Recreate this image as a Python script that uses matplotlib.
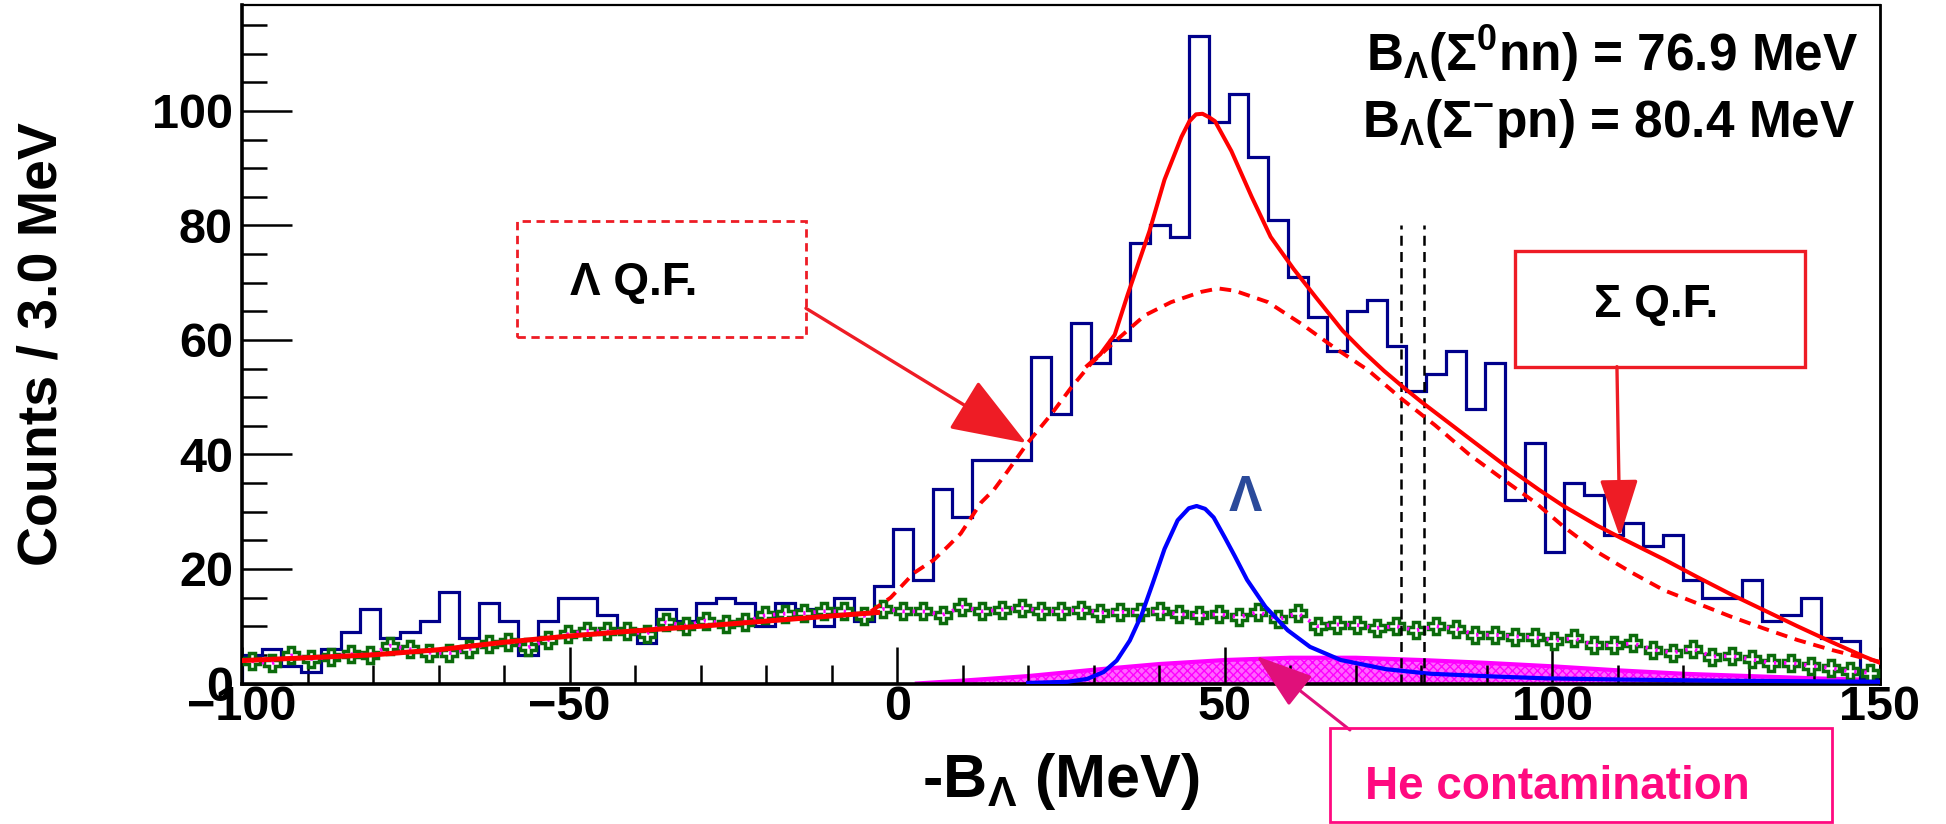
import numpy as np
import matplotlib
matplotlib.use("Agg")
import matplotlib.pyplot as plt
from matplotlib.patches import Rectangle
from matplotlib import font_manager

# ---- data ----
x_lo, x_hi, n_bins = -100.0, 150.0, 83

counts = [5, 6, 3, 2, 6, 9, 13, 8, 9, 11, 16, 8, 14, 11, 5, 11, 15,
          15, 12, 9.5, 7, 13, 11, 14, 15, 14, 10, 14, 13, 10, 15, 11, 17,
          27, 18, 34, 29, 39, 39, 39, 57, 47, 63, 56, 60, 77, 80, 78, 113, 98,
          103, 92, 81, 71, 64, 58, 65, 67, 59, 51, 54, 58, 48, 56, 32, 42,
          23, 35, 33, 26, 28, 24, 26, 18, 15, 15, 18, 11, 12, 15, 8, 7.5, 1]

bkg_pts = [3.9, 3.5, 4.9, 4.3, 4.7, 5.1, 5.0, 6.6, 6.0, 5.4, 5.3, 6.0, 6.9, 7.2, 6.3, 7.6, 8.6,
           9.2, 9.1, 9.1, 8.7, 10.7, 10.1, 11.0, 10.4, 10.8, 11.9, 12.2, 12.3, 12.6, 12.6, 11.8, 13.0,
           12.6, 12.6, 12.0, 13.4, 12.6, 12.9, 13.2, 12.7, 12.6, 12.9, 12.4, 12.5, 12.5, 12.6, 12.1, 11.9, 12.1,
           11.6, 12.5, 11.2, 12.3, 10.0, 10.3, 10.2, 9.7, 10.0, 9.3, 10.0, 9.6, 8.5, 8.5, 8.2, 8.1,
           7.5, 7.9, 6.7, 6.7, 7.0, 5.9, 5.4, 6.1, 4.7, 4.8, 4.2, 3.6, 3.6, 3.1, 2.7, 2.1, 1.9]

# total fit, low side
tot_lo_x = [-100, -90, -80, -70, -60, -50, -40, -30, -20, -10, -3]
tot_lo_y = [4.0, 4.5, 5.0, 5.9, 7.2, 8.3, 9.2, 10.0, 10.9, 11.8, 12.4]

# total fit, peak region and tail
tot_x = [29, 31, 33.2, 35.2, 38.5, 40.8, 43.4, 44.6, 45.6, 46.6, 47.6, 48.5, 51, 54.1, 57, 60.5,
         64, 68, 71.2, 74.3, 77.5, 80.1, 87.2, 93.3, 98, 101.7, 106.8, 110.5, 117, 122.1,
         127.2, 132.3, 137.4, 142.5, 147.6, 150]
tot_y = [55.5, 57.5, 60.9, 68, 79, 88, 95.5, 98.2, 99.4, 99.5, 98.9, 98.2, 93, 85, 78, 72.4,
         67.3, 61.6, 57.9, 54.6, 51.5, 49.1, 42.9, 37.6, 33.8, 31.0, 27.6, 25.4, 21.7, 18.6,
         15.6, 12.8, 10.0, 7.3, 4.7, 3.6]

# Lambda quasi-free component
lqf_x = [-4, -1, 2.55, 5.6, 7.7, 9.7, 12.8, 14.8, 16.8, 19.9, 23.5, 26.5, 29.6, 33.2, 37.8,
         41.8, 46.4, 49, 51.5, 56.6, 61.7, 66.8, 71.9, 77, 82.1, 87.2, 92.3, 97.4,
         101.7, 106.8, 111.9, 117, 122.1, 127.2, 132.3, 137.4, 142.5, 147.6, 150]
lqf_y = [12.6, 15.0, 19.3, 21.6, 23.9, 26.2, 31.6, 33.9, 37.0, 42.0, 47.0, 51.6, 55.9, 59.7, 64.3,
         66.6, 68.4, 69.0, 68.6, 66.6, 62.8, 58.6, 54.7, 49.7, 45.1, 40.1, 35.8, 31.6,
         27.4, 23.0, 19.5, 16.3, 14.0, 11.7, 9.6, 7.6, 5.9, 4.4, 3.8]

# Lambda peak
lam_x = [20, 26, 29, 31.5, 33.5, 35.5, 37.3, 39, 40.8, 42.8, 44.5, 45.7, 47, 48.3, 50, 51.5,
         53.4, 56.2, 59.6, 63, 67.7, 74.6, 81.4, 91.6, 99, 110, 125, 150]
lam_y = [0.1, 0.3, 0.8, 2.0, 4.0, 7.5, 12.0, 17.5, 23.5, 28.5, 30.6, 31.0, 30.5, 29.0, 25.5, 22.3,
         18.1, 13.4, 9.3, 6.4, 4.1, 2.5, 1.7, 1.2, 0.9, 0.7, 0.5, 0.3]

# He contamination
he_x = [3, 10, 20, 30, 40, 50, 60, 70, 80, 90, 100, 110, 120, 130, 140, 150]
he_y = [0, 0.5, 1.3, 2.4, 3.4, 4.1, 4.5, 4.5, 4.1, 3.6, 3.0, 2.3, 1.7, 1.3, 0.9, 0.6]

b_sigma0nn = 76.9
b_sigmampn = 80.4
line_top = 80

# ---- style ----
plt.rcParams['font.family'] = ['Liberation Sans', 'DejaVu Sans']
plt.rcParams['font.weight'] = 'bold'
plt.rcParams['mathtext.fontset'] = 'custom'
plt.rcParams['mathtext.rm'] = 'Liberation Sans:bold'
plt.rcParams['mathtext.it'] = 'Liberation Sans:bold'
plt.rcParams['mathtext.bf'] = 'Liberation Sans:bold'

names = {f.name for f in font_manager.fontManager.ttflist}
if 'Liberation Sans Narrow' in names:
    ylab_family, ylab_size = 'Liberation Sans Narrow', 48
else:
    ylab_family, ylab_size = 'Liberation Sans', 40

W, H = 1946, 824
fig = plt.figure(figsize=(W / 100, H / 100), dpi=100)
ax = fig.add_axes([242 / W, (H - 683.5) / H, 1638 / W, 678.5 / H])

edges = np.linspace(x_lo, x_hi, n_bins + 1)
centers = 0.5 * (edges[:-1] + edges[1:])

# He contamination (hatched)
ax.fill_between(he_x, 0, he_y, facecolor='#ff66ff', edgecolor='#ff00ff', hatch='xxxx',
                linewidth=0, zorder=1)
ax.plot(he_x, he_y, color='#ff00ff', lw=3.0, zorder=1.5)

# data histogram
ax.stairs(counts, edges, color='#00008b', lw=2.3, zorder=2)

# background points
ax.plot(centers, bkg_pts, linestyle='none', marker='P', ms=11, mfc='white',
        mec='#0b6b0b', mew=2.5, zorder=3)
ax.plot(centers, bkg_pts, linestyle=(0, (0.6, 2.0)), color='#ff00ff', lw=2.8, zorder=3.5)

# Lambda peak
ax.plot(lam_x, lam_y, color='#0000ff', lw=3.0, zorder=4)

# fit curves
ax.plot(lqf_x, lqf_y, color='#ff0000', lw=2.8, linestyle=(0, (3, 2)), zorder=5)
ax.plot(tot_lo_x, tot_lo_y, color='#ff0000', lw=3.6, zorder=5)
ax.plot(tot_x, tot_y, color='#ff0000', lw=2.9, zorder=5)

# binding energy lines
for xb in (b_sigma0nn, b_sigmampn):
    ax.plot([xb, xb], [0, line_top], color='black', lw=1.8, linestyle=(0, (4, 2.5)), zorder=4.5)

ax.set_xlim(x_lo, x_hi)
ax.set_ylim(0, 118.5)

ax.set_xticks([-100, -50, 0, 50, 100, 150])
ax.set_xticks(np.arange(-100, 151, 10), minor=True)
ax.set_yticks([0, 20, 40, 60, 80, 100])
ax.set_yticks(np.arange(0, 116, 5), minor=True)
ax.tick_params(axis='both', which='both', direction='in', top=False, right=False,
               labelsize=35, width=1.8, color='black')
ax.tick_params(axis='y', which='major', length=36, pad=6.5)
ax.tick_params(axis='y', which='minor', length=18)
ax.tick_params(axis='x', which='major', length=27, pad=1)
ax.tick_params(axis='x', which='minor', length=14)
for lab in ax.get_xticklabels() + ax.get_yticklabels():
    lab.set_fontweight('bold')

for side in ('left', 'bottom'):
    ax.spines[side].set_linewidth(2.6)
ax.spines['top'].set_linewidth(1.6)
ax.spines['right'].set_linewidth(2.0)

ax.set_xlabel(r'-B$_{\Lambda}$ (MeV)', fontsize=44, fontweight='bold')
ax.xaxis.set_label_coords(0.5, -0.1437)
ax.xaxis.label.set_va('center')
ax.set_ylabel('Counts / 3.0 MeV', fontsize=ylab_size, fontweight='bold', family=ylab_family)
ax.yaxis.set_label_coords(-0.1215, 0.5)
ax.yaxis.label.set_va('center')

# binding energies
ax.text(0.9866, 0.929, r'$B_{\Lambda}(\Sigma^{0}nn)$ = 76.9 MeV', transform=ax.transAxes,
        ha='right', va='center', fontsize=37, fontweight='bold')
ax.text(0.985, 0.826, r'$B_{\Lambda}(\Sigma^{-}pn)$ = 80.4 MeV', transform=ax.transAxes,
        ha='right', va='center', fontsize=37, fontweight='bold')

# Lambda label
ax.text(53.2, 32.4, 'Λ', color='#2b4a9a', fontsize=36, fontweight='bold', ha='center', va='center')

# Lambda Q.F. box
box_red = '#ee1c25'
ax.add_patch(Rectangle((0.1679, 0.511), 0.1764, 0.171, transform=ax.transAxes, fill=False,
                       edgecolor=box_red, lw=2.0, linestyle=(0, (3, 2)), zorder=6))
ax.text(0.2005, 0.590, 'Λ Q.F.', transform=ax.transAxes, ha='left', va='center',
        fontsize=33, fontweight='bold')
ax.annotate('', xy=(19.7, 42.0), xycoords='data', xytext=(0.3443, 0.553), textcoords='axes fraction',
            arrowprops=dict(arrowstyle='-|>,head_length=1.2,head_width=0.45', mutation_scale=40,
                            color=box_red, lw=2.4, shrinkA=0, shrinkB=0), zorder=7)

# Sigma Q.F. box
ax.add_patch(Rectangle((0.7772, 0.467), 0.177, 0.171, transform=ax.transAxes, fill=False,
                       edgecolor=box_red, lw=2.4, zorder=6))
ax.text(0.8632, 0.5578, 'Σ Q.F.', transform=ax.transAxes, ha='center', va='center',
        fontsize=33, fontweight='bold')
ax.annotate('', xy=(110.3, 25.6), xycoords='data', xytext=(0.8394, 0.467), textcoords='axes fraction',
            arrowprops=dict(arrowstyle='-|>,head_length=0.9,head_width=0.3', mutation_scale=40,
                            color=box_red, lw=2.4, shrinkA=0, shrinkB=0), zorder=7)

# He contamination box
he_col = '#ff0a80'
fig.patches.append(Rectangle((0.6835, 0.0024), 0.2579, 0.1141, transform=fig.transFigure,
                             fill=False, edgecolor=he_col, lw=2.0))
fig.text(0.7014, 0.0449, 'He contamination', ha='left', va='center', fontsize=33,
         fontweight='bold', color=he_col)
ax.annotate('', xy=(54.8, 4.8), xycoords='data', xytext=(0.6937, 0.1141), textcoords='figure fraction',
            arrowprops=dict(arrowstyle='-|>,head_length=0.9,head_width=0.3', mutation_scale=40,
                            color='#e0107a', lw=2.2, shrinkA=0, shrinkB=0),
            annotation_clip=False, zorder=7)

fig.savefig('out.png', dpi=100, facecolor='white')
